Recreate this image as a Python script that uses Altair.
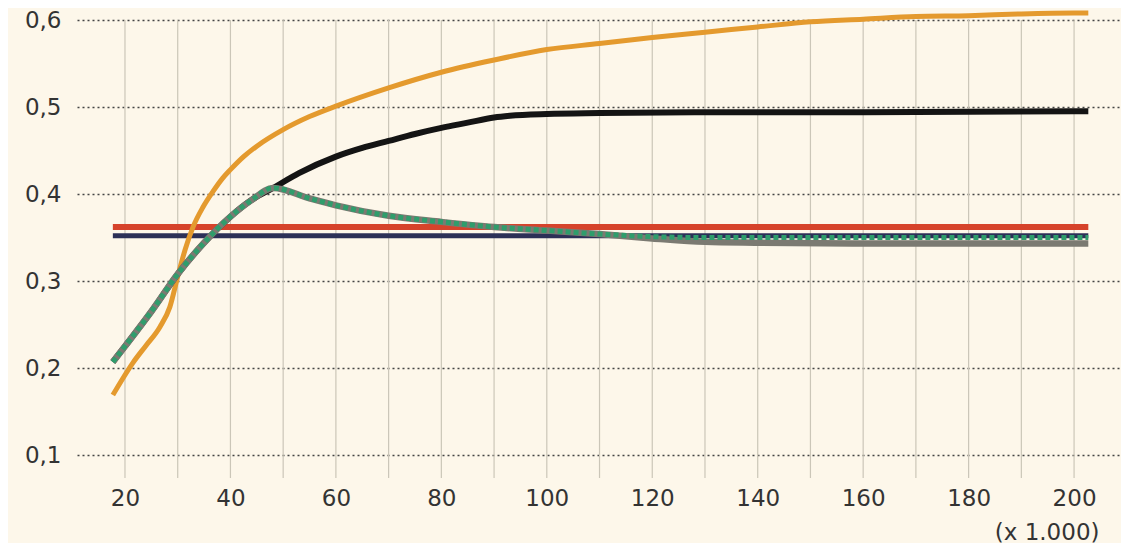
import altair as alt
import pandas as pd

# ---- data ----
x_ticks = [20, 40, 60, 80, 100, 120, 140, 160, 180, 200]
grid_x = [20, 30, 40, 50, 60, 70, 80, 90, 100, 110, 120, 130, 140, 150, 160, 170, 180, 190, 200]
y_ticks = [0.1, 0.2, 0.3, 0.4, 0.5, 0.6]

orange_x = [17.7, 21.5, 24, 26.6, 28.5, 30, 31.4, 32.9, 34.8, 36.7, 38.5, 40, 42.5, 45, 50, 55,
            60, 70, 80, 90, 100, 110, 120, 130, 140, 150, 160, 170, 180, 190, 200, 202.7]
orange_y = [0.169, 0.206, 0.226, 0.247, 0.270, 0.305, 0.336, 0.362, 0.385, 0.403, 0.418, 0.428,
            0.443, 0.455, 0.474, 0.489, 0.501, 0.522, 0.540, 0.554, 0.566, 0.573, 0.580, 0.586,
            0.592, 0.598, 0.601, 0.604, 0.605, 0.607, 0.608, 0.608]

rise_x = [17.7, 20, 25, 30, 35, 40, 44, 48.1]
rise_y = [0.207, 0.225, 0.265, 0.308, 0.344, 0.374, 0.393, 0.407]

black_x = [53, 60, 65, 70, 75, 80, 85, 90, 93, 100, 110, 130, 160, 200, 202.7]
black_y = [0.424, 0.443, 0.453, 0.461, 0.469, 0.476, 0.482, 0.488, 0.490, 0.492, 0.493, 0.494,
           0.494, 0.495, 0.495]

gray_x = [55, 60, 70, 80, 90, 100, 110, 120, 130, 140, 160, 200, 202.7]
gray_y = [0.395, 0.387, 0.375, 0.368, 0.362, 0.358, 0.354, 0.349, 0.345, 0.344, 0.343, 0.343, 0.343]

green_x = [55, 60, 70, 80, 90, 100, 110, 120, 130, 160, 200, 202.7]
green_y = [0.395, 0.387, 0.375, 0.368, 0.362, 0.358, 0.354, 0.351, 0.350, 0.350, 0.350, 0.350]

red_x = [17.7, 202.7]
red_y = [0.362, 0.362]
navy_x = [17.7, 202.7]
navy_y = [0.352, 0.352]

# ---- styling ----
BG = "#fdf7ea"
FONT = "DejaVu Sans"
FS = 23
TXT = "#333333"
X_DOM = [10.9, 208.9]
Y_DOM = [0.0736, 0.6138]

xs = alt.Scale(domain=X_DOM, nice=False, zero=False)
ys = alt.Scale(domain=Y_DOM, nice=False, zero=False)

x_axis = alt.Axis(values=x_ticks, grid=False, ticks=False, domain=False, labelPadding=9,
                  labelFontSize=FS, labelColor=TXT, labelFont=FONT,
                  title="(x 1.000)", titleFont=FONT, titleFontSize=FS,
                  titleFontWeight="normal", titleColor=TXT, titleAlign="right",
                  titleBaseline="alphabetic", titleX=1022, titleY=61)
y_axis = alt.Axis(values=y_ticks, grid=True, gridDash=[2, 3], gridColor="#444444",
                  gridWidth=1.4, ticks=False, domain=False, labelPadding=16,
                  labelFontSize=FS, labelColor=TXT, labelFont=FONT,
                  labelExpr="replace(format(datum.value, '.1f'), '.', ',')", title=None)

X = alt.X("x:Q", scale=xs, axis=x_axis)
Y = alt.Y("y:Q", scale=ys, axis=y_axis)


def series(xv, yv):
    return pd.DataFrame({"x": xv, "y": yv})


def line(df, color, width, dash=None):
    kw = dict(color=color, strokeWidth=width, strokeCap="butt", strokeJoin="round",
              interpolate="monotone")
    if dash:
        kw["strokeDash"] = dash
    return alt.Chart(df).mark_line(**kw).encode(x=X, y=Y)


grid_df = pd.DataFrame({"x": grid_x, "y": [0.6] * len(grid_x), "y2": [Y_DOM[0]] * len(grid_x)})
vgrid = alt.Chart(grid_df).mark_rule(color="#cbc6b8", strokeWidth=1.2).encode(
    x=X, y=Y, y2="y2:Q"
)

rise = series(rise_x, rise_y)
orange = line(series(orange_x, orange_y), "#e49a2e", 5)
black = line(pd.concat([rise, series(black_x, black_y)]), "#141414", 6)
gray = line(pd.concat([rise, series(gray_x, gray_y)]), "#7b7a72", 6.5)
green = line(pd.concat([rise, series(green_x, green_y)]), "#2f9d6c", 5, dash=[5, 3])
red = line(series(red_x, red_y), "#d6432b", 6)
navy = line(series(navy_x, navy_y), "#2c3057", 5)

chart = alt.layer(vgrid, red, navy, orange, black, gray, green).properties(
    width=1044, height=470,
    autosize=alt.AutoSizeParams(type="none"),
    padding={"left": 69, "top": 0, "right": 0, "bottom": 65},
    background=BG,
).configure_view(strokeWidth=0)

chart.save("out.html", embed_options={"renderer": "svg", "actions": False})
